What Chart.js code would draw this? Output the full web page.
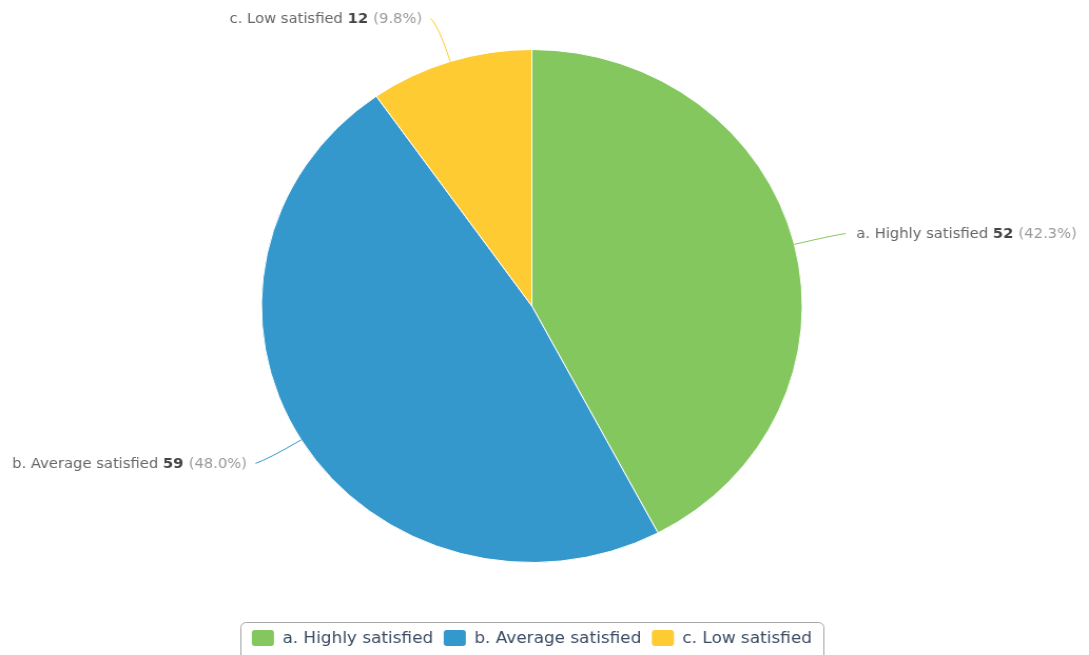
<!DOCTYPE html>
<html>
<head>
<meta charset="utf-8">
<script src="https://cdn.jsdelivr.net/npm/chart.js@4.4.0/dist/chart.umd.min.js"></script>
<style>
  html, body { margin: 0; padding: 0; background: #fff; overflow: hidden; }
  #wrap { width: 1033px; height: 655px; transform: scaleX(1.05421); transform-origin: 0 0; }
</style>
</head>
<body>
<div id="wrap"><canvas id="graph1"></canvas></div>
<script>
var categories = ["a. Highly satisfied", "b. Average satisfied", "c. Low satisfied"];
var counts = [52, 59, 12];
var colors = ["#84c75f", "#3598cc", "#ffcb33"];

var total = counts.reduce(function (a, b) { return a + b; }, 0);
var font = "DejaVu Sans";

// labels with connector lines next to each slice
var sliceLabels = {
    id: 'sliceLabels',
    afterDatasetsDraw: function (chart) {
        var ctx = chart.ctx;
        var meta = chart.getDatasetMeta(0);
        meta.data.forEach(function (arc, i) {
            var p = arc.getProps(['x', 'y', 'startAngle', 'endAngle', 'outerRadius'], true);
            var mid = (p.startAngle + p.endAngle) / 2;
            var cos = Math.cos(mid), sin = Math.sin(mid);
            var r = p.outerRadius;
            var ax = p.x + cos * r, ay = p.y + sin * r;
            var cx = p.x + cos * (r + 38), cy = p.y + sin * (r + 38);
            var lx = p.x + cos * (r + 45), ly = p.y + sin * (r + 45);
            var right = cos >= 0;
            var ex = lx + (right ? 5 : -5);

            ctx.save();
            ctx.strokeStyle = colors[i];
            ctx.lineWidth = 1;
            ctx.beginPath();
            ctx.moveTo(ax, ay);
            ctx.quadraticCurveTo(cx, cy, ex, ly);
            ctx.stroke();

            var pct = '(' + (counts[i] / total * 100).toFixed(1) + '%)';
            var parts = [
                { t: categories[i] + ' ', f: '14px "' + font + '"', c: '#666666' },
                { t: counts[i] + ' ', f: 'bold 14px "' + font + '"', c: '#444444' },
                { t: pct, f: '14px "' + font + '"', c: '#999999' }
            ];
            var w = 0;
            parts.forEach(function (s) { ctx.font = s.f; s.w = ctx.measureText(s.t).width; w += s.w; });
            var x = right ? lx + 15 : lx - 13 - w;
            ctx.textBaseline = 'middle';
            ctx.textAlign = 'left';
            parts.forEach(function (s) {
                ctx.font = s.f;
                ctx.fillStyle = s.c;
                ctx.fillText(s.t, x, ly + 1);
                x += s.w;
            });
            ctx.restore();
        });
    }
};

// boxed legend under the pie
var boxLegend = {
    id: 'boxLegend',
    afterDraw: function (chart) {
        var ctx = chart.ctx;
        var area = chart.chartArea;
        var mid = (area.left + area.right) / 2;
        var top = area.bottom + 59;
        var sw = 21, sh = 16, gapIn = 8, gapOut = 10, pad = 11;
        ctx.save();
        ctx.font = '16px "' + font + '"';
        var widths = categories.map(function (c) { return ctx.measureText(c).width; });
        var inner = 0;
        widths.forEach(function (w, i) { inner += sw + gapIn + w + (i < widths.length - 1 ? gapOut : 0); });
        var boxW = inner + pad * 2;
        var left = mid - boxW / 2;

        ctx.strokeStyle = '#a6a6a6';
        ctx.lineWidth = 1;
        ctx.beginPath();
        ctx.roundRect(Math.round(left) + 0.5, Math.round(top) + 0.5, Math.round(boxW), 50, 5);
        ctx.stroke();

        var x = left + pad;
        var cy = top + 16;
        ctx.textBaseline = 'middle';
        categories.forEach(function (c, i) {
            ctx.fillStyle = colors[i];
            ctx.beginPath();
            ctx.roundRect(x, cy - sh / 2, sw, sh, 3);
            ctx.fill();
            x += sw + gapIn;
            ctx.fillStyle = '#3a4b63';
            ctx.fillText(c, x, cy + 1);
            x += widths[i] + gapOut;
        });
        ctx.restore();
    }
};

var ctx = document.getElementById('graph1').getContext('2d');
var data = {
    labels: categories,
    datasets: [{
        data: counts,
        backgroundColor: colors,
        borderColor: '#ffffff',
        borderWidth: 1
    }]
}
var options = {
    responsive: true,
    maintainAspectRatio: false,
    animation: false,
    devicePixelRatio: 1,
    layout: { padding: { top: 49, bottom: 92, left: 0, right: 24 } },
    plugins: {
        legend: { display: false },
        tooltip: { enabled: false }
    }
}
var config = {
    type: 'pie',
    data: data,
    options: options,
    plugins: [sliceLabels, boxLegend]
}
var graph1 = new Chart(ctx, config)
</script>
</body>
</html>
